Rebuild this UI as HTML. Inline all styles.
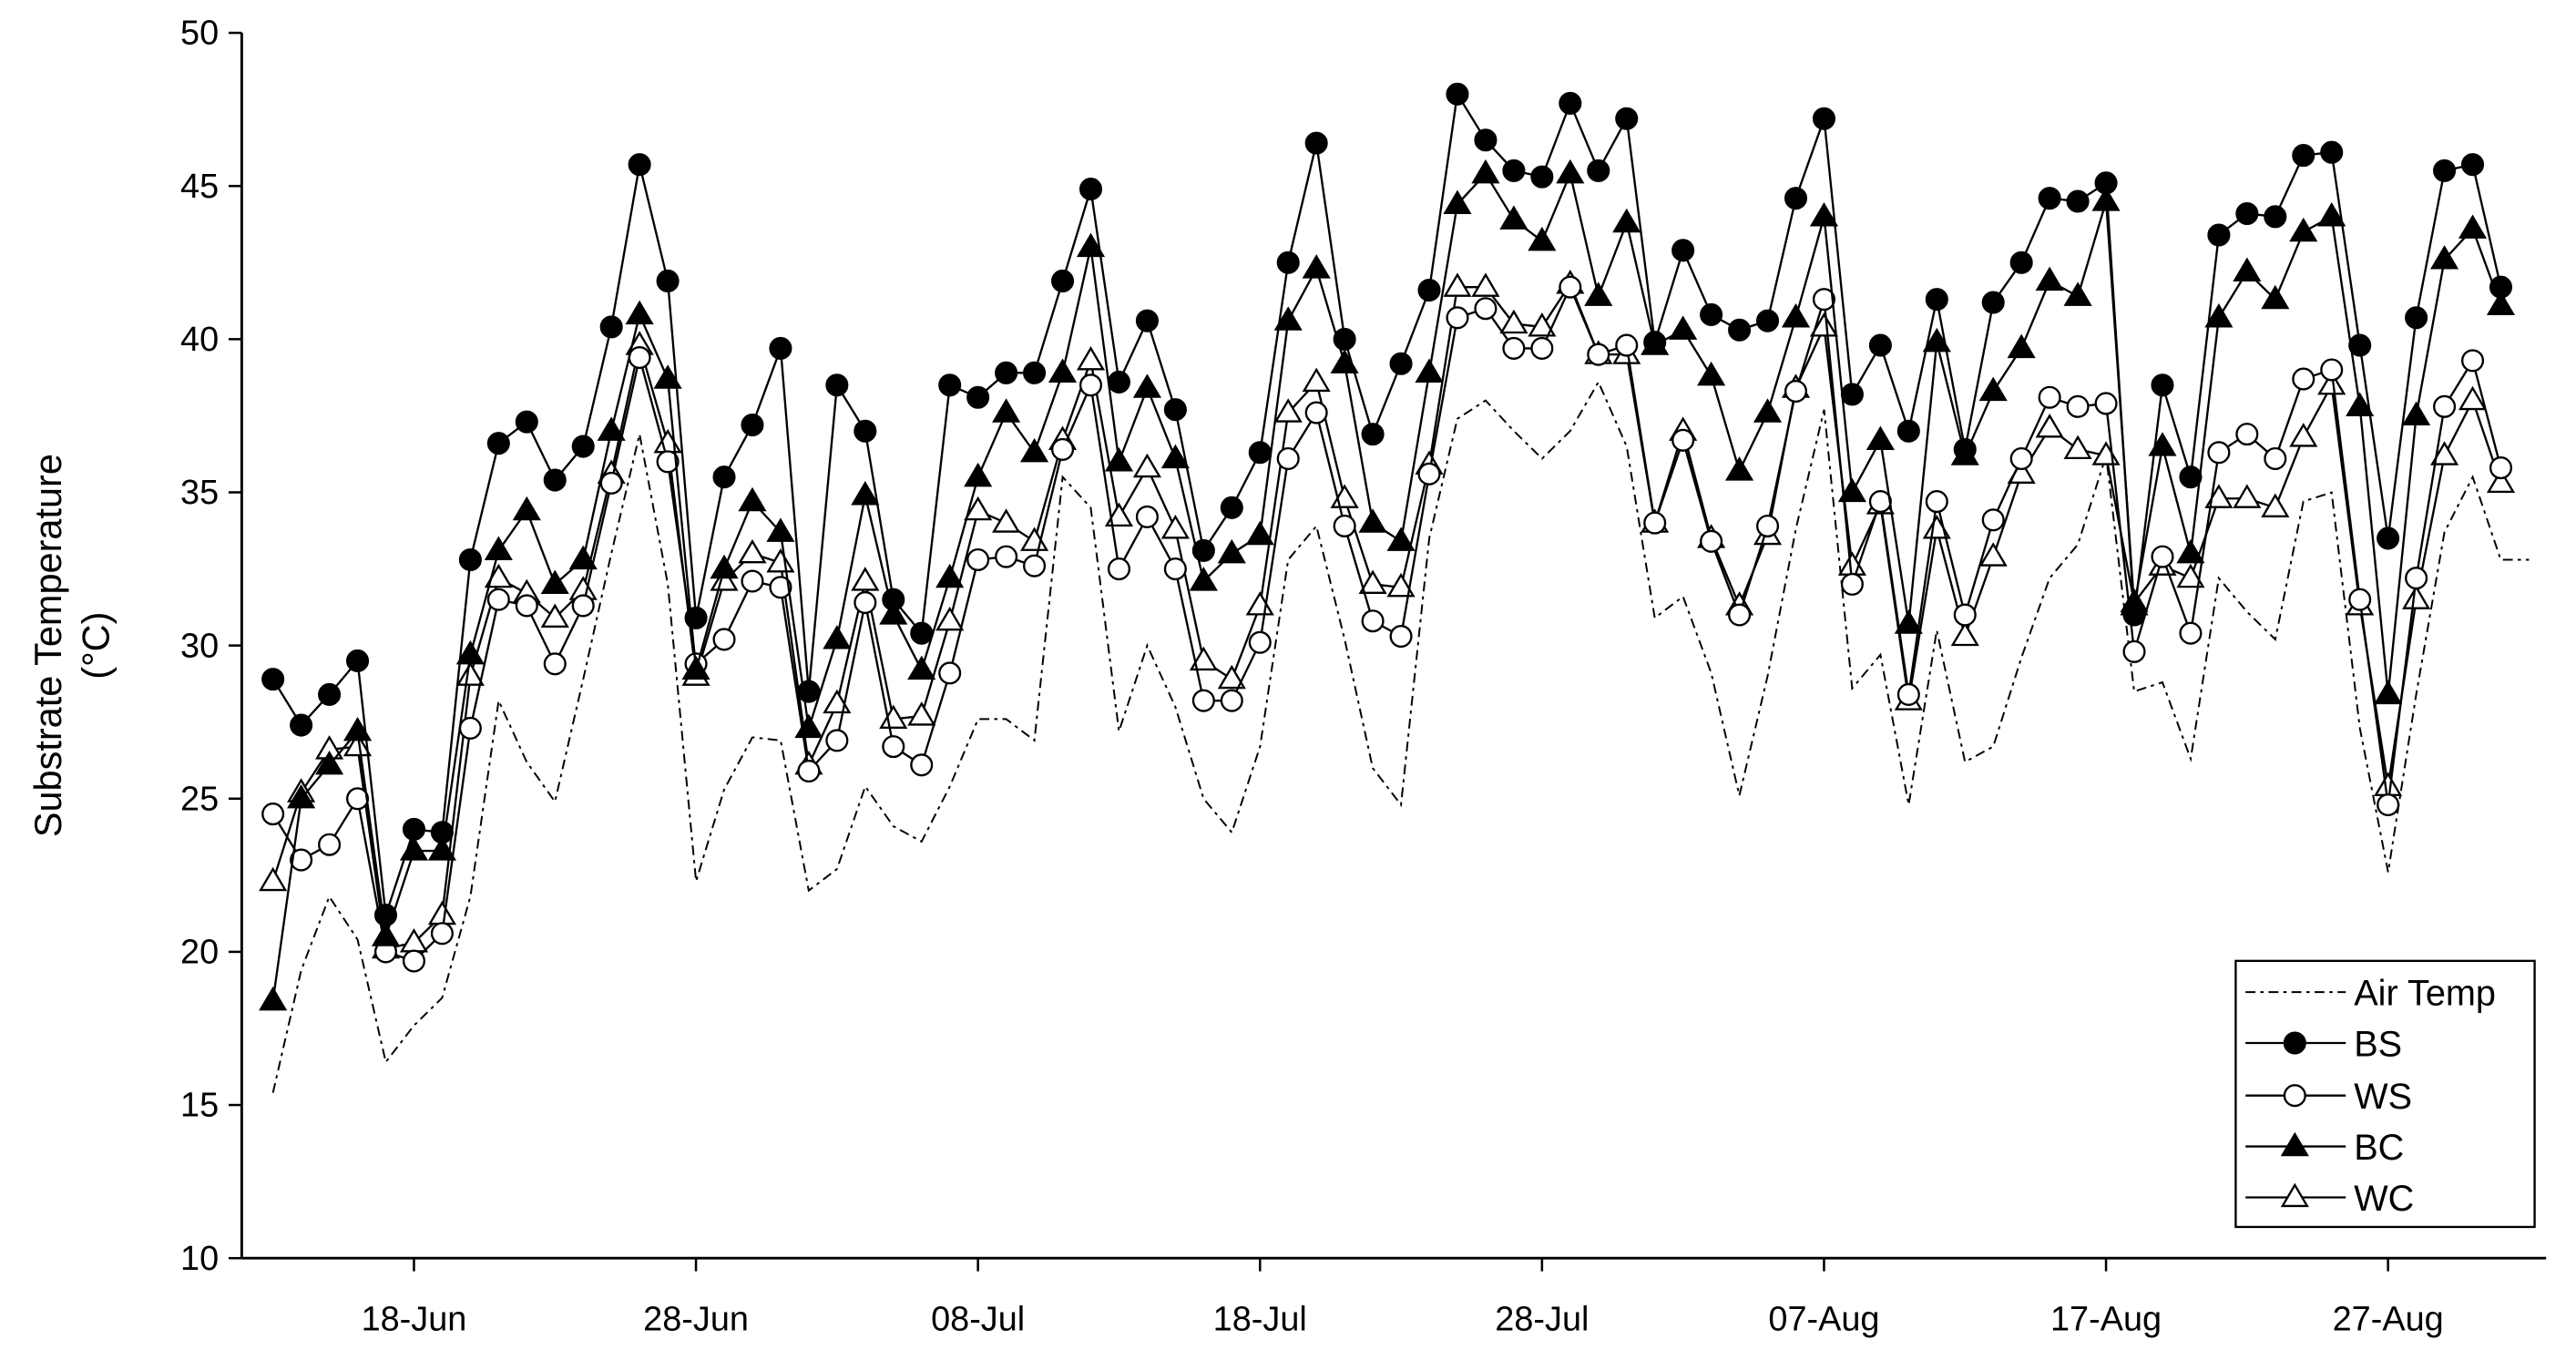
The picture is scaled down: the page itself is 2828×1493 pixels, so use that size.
<!DOCTYPE html>
<html><head><meta charset="utf-8"><style>
html,body{margin:0;padding:0;background:#fff;}
svg{display:block;font-family:"Liberation Sans",Arial,sans-serif;}
</style></head><body>
<svg id="chart" width="2828" height="1493" viewBox="0 0 1568 828" xmlns="http://www.w3.org/2000/svg">
<g id="axes"></g>
<g id="series"></g>
<g id="legend"></g>
</svg>
<script>
const yTicks=[10,15,20,25,30,35,40,45,50];
const xTickDays=[5,15,25,35,45,55,65,75];
const xTickLabels=["18-Jun","28-Jun","08-Jul","18-Jul","28-Jul","07-Aug","17-Aug","27-Aug"];
const airTemp=[15.4,19.4,21.8,20.4,16.4,17.6,18.5,21.8,28.2,26.2,24.9,28.9,33.0,36.9,32.0,22.3,25.3,27.0,26.9,22.0,22.7,25.4,24.1,23.6,25.4,27.6,27.6,26.9,35.5,34.5,27.2,30.0,28.0,25.0,23.9,26.7,32.8,33.9,30.2,26.0,24.8,33.5,37.4,38.0,37.0,36.1,37.0,38.6,36.5,30.9,31.6,29.1,25.1,29.0,33.8,37.7,28.6,29.7,24.8,30.5,26.2,26.7,29.6,32.2,33.3,36.2,28.5,28.8,26.3,32.2,31.1,30.2,34.7,35.0,27.3,22.6,28.4,33.7,35.5,32.8,32.8];
const bs=[28.9,27.4,28.4,29.5,21.2,24.0,23.9,32.8,36.6,37.3,35.4,36.5,40.4,45.7,41.9,30.9,35.5,37.2,39.7,28.5,38.5,37.0,31.5,30.4,38.5,38.1,38.9,38.9,41.9,44.9,38.6,40.6,37.7,33.1,34.5,36.3,42.5,46.4,40.0,36.9,39.2,41.6,48.0,46.5,45.5,45.3,47.7,45.5,47.2,39.9,42.9,40.8,40.3,40.6,44.6,47.2,38.2,39.8,37.0,41.3,36.4,41.2,42.5,44.6,44.5,45.1,31.0,38.5,35.5,43.4,44.1,44.0,46.0,46.1,39.8,33.5,40.7,45.5,45.7,41.7];
const ws=[24.5,23.0,23.5,25.0,20.0,19.7,20.6,27.3,31.5,31.3,29.4,31.3,35.3,39.4,36.0,29.4,30.2,32.1,31.9,25.9,26.9,31.4,26.7,26.1,29.1,32.8,32.9,32.6,36.4,38.5,32.5,34.2,32.5,28.2,28.2,30.1,36.1,37.6,33.9,30.8,30.3,35.6,40.7,41.0,39.7,39.7,41.7,39.5,39.8,34.0,36.7,33.4,31.0,33.9,38.3,41.3,32.0,34.7,28.4,34.7,31.0,34.1,36.1,38.1,37.8,37.9,29.8,32.9,30.4,36.3,36.9,36.1,38.7,39.0,31.5,24.8,32.2,37.8,39.3,35.8];
const bc=[18.4,25.0,26.1,27.2,20.5,23.3,23.3,29.7,33.1,34.4,32.0,32.8,37.0,40.8,38.7,29.2,32.5,34.7,33.7,27.3,30.2,34.9,31.0,29.2,32.2,35.5,37.6,36.3,38.9,43.0,36.0,38.4,36.1,32.1,33.0,33.6,40.6,42.3,39.2,34.0,33.4,38.9,44.4,45.4,43.9,43.2,45.4,41.4,43.8,39.8,40.3,38.8,35.7,37.6,40.7,44.0,35.0,36.7,30.7,39.9,36.2,38.3,39.7,41.9,41.4,44.5,31.3,36.5,33.0,40.7,42.2,41.3,43.5,44.0,37.8,28.4,37.5,42.6,43.6,41.1];
const wc=[22.3,25.2,26.6,26.7,20.1,20.3,21.2,29.0,32.2,31.7,30.9,31.8,35.6,39.8,36.6,29.0,32.1,33.0,32.7,26.1,28.1,32.1,27.6,27.7,30.8,34.4,34.0,33.4,36.7,39.3,34.2,35.8,33.8,29.5,28.9,31.3,37.6,38.6,34.8,32.0,31.9,35.9,41.7,41.7,40.5,40.4,41.8,39.5,39.5,34.0,37.0,33.5,31.3,33.6,38.4,40.4,32.6,34.6,28.2,33.8,30.3,32.9,35.6,37.1,36.4,36.2,31.4,32.6,32.2,34.8,34.8,34.5,36.8,38.5,31.3,25.4,31.5,36.2,38.0,35.3];

const NS="http://www.w3.org/2000/svg";
const X0=147,X1=1550,YT=20,YB=766;
function xs(d){return 166+17.17*d;}
function ys(v){return YB-(v-10)*(YB-YT)/40;}
function mk(tag,attrs,parent){const e=document.createElementNS(NS,tag);for(const k in attrs)e.setAttribute(k,attrs[k]);parent.appendChild(e);return e;}
const axes=document.getElementById('axes'),ser=document.getElementById('series'),leg=document.getElementById('legend');

let a=mk('line',{x1:X0,y1:YT,x2:X0,y2:YB,stroke:'#000','stroke-width':1.6},axes);

a=mk('line',{x1:X0,y1:YB,x2:X1,y2:YB,stroke:'#000','stroke-width':1.6},axes);

yTicks.forEach(v=>{
  const t=mk('line',{x1:X0-8,y1:ys(v),x2:X0,y2:ys(v),stroke:'#000','stroke-width':1.4},axes);
  
  const l=mk('text',{x:X0-14,y:ys(v)+7,'text-anchor':'end','font-size':21},axes);l.textContent=v;
  
});
xTickDays.forEach((d,i)=>{
  const t=mk('line',{x1:xs(d),y1:YB,x2:xs(d),y2:YB+8,stroke:'#000','stroke-width':1.4},axes);
  
  const l=mk('text',{x:xs(d),y:YB+44,'text-anchor':'middle','font-size':21},axes);l.textContent=xTickLabels[i];
  
});
let yl=mk('text',{x:0,y:0,'text-anchor':'middle','font-size':23,transform:'translate(37,393) rotate(-90)'},axes);yl.textContent='Substrate Temperature';

yl=mk('text',{x:0,y:0,'text-anchor':'middle','font-size':23,transform:'translate(66,393) rotate(-90)'},axes);yl.textContent='(°C)';


function path(vals){return vals.map((v,i)=>(i?'L':'M')+xs(i).toFixed(1)+' '+ys(v).toFixed(1)).join(' ');}
function marker(kind,cx,cy,parent){
  let m;
  if(kind==='circle'||kind==='ocircle'){
    m=mk('circle',{cx:cx,cy:cy,r:6.3,fill:kind==='circle'?'#000':'#fff',stroke:'#000','stroke-width':1.3},parent);
  }else{
    const s=7.5;
    m=mk('polygon',{points:`${cx},${cy-s} ${cx+s},${cy+s*0.7} ${cx-s},${cy+s*0.7}`,fill:kind==='tri'?'#000':'#fff',stroke:'#000','stroke-width':1.3},parent);
  }
  return m;
}
const air=mk('path',{d:path(airTemp),fill:'none',stroke:'#000','stroke-width':1.1,'stroke-dasharray':'6 3 2 3'},ser);

const defs=[['wc',wc,'otri'],['ws',ws,'ocircle'],['bc',bc,'tri'],['bs',bs,'circle']];
defs.forEach(([n,vals,kind])=>{
  const g=mk('g',{},ser);
  
  mk('path',{d:path(vals),fill:'none',stroke:'#000','stroke-width':1.3},g);
  vals.forEach((v,i)=>{
    const m=marker(kind,xs(i),ys(v),g);
    
    
  });
});
// legend
const box=mk('rect',{x:1361,y:585,width:182,height:162,fill:'#fff',stroke:'#000','stroke-width':1.3},leg);

const entries=[['Air Temp',null],['BS','circle'],['WS','ocircle'],['BC','tri'],['WC','otri']];
const ly=[604,635,667,698,729];
entries.forEach(([lab,kind],i)=>{
  const g=mk('g',{},leg);
  
  const ln=mk('line',{x1:1367,y1:ly[i],x2:1428,y2:ly[i],stroke:'#000','stroke-width':kind?1.3:1.1},g);
  if(!kind)ln.setAttribute('stroke-dasharray','6 3 2 3');
  else marker(kind,1397,ly[i],g);
  const t=mk('text',{x:1433,y:ly[i]+8,'font-size':22},g);t.textContent=lab;
});
</script>
</body></html>
